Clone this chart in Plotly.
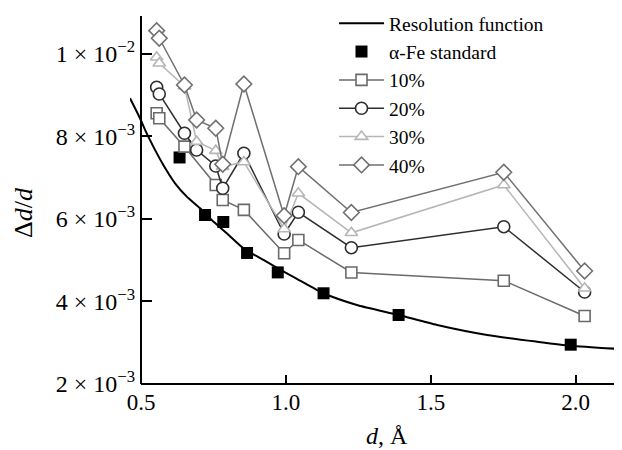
import plotly.graph_objects as go

# Resolution function curve
res_d = [0.462, 0.4965, 0.514, 0.5425, 0.577, 0.6175, 0.658, 0.704, 0.744, 0.796,
         0.8535, 0.9226, 1.0035, 1.038, 1.130, 1.245, 1.389, 1.522, 1.6945, 1.867,
         1.982, 2.155]
res_v = [0.008926, 0.008441, 0.008158, 0.007753, 0.007309, 0.006865, 0.006541,
         0.006259, 0.005976, 0.005653, 0.00529, 0.005006, 0.004684, 0.00455,
         0.004199, 0.003915, 0.003673, 0.00343, 0.003188, 0.003025, 0.002928,
         0.002848]

# alpha-Fe standard
fe_d = [0.633, 0.721, 0.784, 0.866, 0.972, 1.130, 1.389, 1.983]
fe_v = [0.007491, 0.006097, 0.005927, 0.005176, 0.004705, 0.004199, 0.003673, 0.002953]

# Sample series
d12 = [0.554, 0.563, 0.650, 0.692, 0.758, 0.782, 0.855, 0.994, 1.043, 1.226, 1.752, 2.031]
v10 = [0.008562, 0.008441, 0.007753, None, 0.006824, 0.006461, 0.006220, 0.005169,
       0.005491, 0.004703, 0.004504, 0.003648]
v20 = [0.009193, 0.009030, 0.008078, 0.007673, 0.007285, 0.006744, 0.007593, 0.005636,
       0.006162, 0.005304, 0.005813, 0.004230]
v30 = [0.009920, 0.009775, 0.009220, 0.007874, 0.007656, 0.007268, 0.007382, 0.005758,
       0.006623, 0.005665, 0.006824, 0.004320]
v40 = [0.010565, 0.010380, 0.009248, 0.008400, 0.008200, 0.007326, 0.009273, 0.006080,
       0.007268, 0.006158, 0.007132, 0.004739]

xtick_vals = [0.5, 1.0, 1.5, 2.0]
xtick_text = ["0.5", "1.0", "1.5", "2.0"]
ytick_vals = [0.002, 0.004, 0.006, 0.008, 0.010]
ytick_text = ["2 × 10<sup>−3</sup>", "4 × 10<sup>−3</sup>", "6 × 10<sup>−3</sup>",
              "8 × 10<sup>−3</sup>", "1 × 10<sup>−2</sup>"]

XMIN, XMAX = 0.462, 2.16
YMIN, YMAX = 0.002, 0.01092
FONT = "Liberation Serif"

fig = go.Figure()
fig.add_trace(go.Scatter(x=res_d, y=res_v, mode="lines", name="Resolution function",
                         line=dict(color="black", width=2, shape="spline", smoothing=0.6)))
fig.add_trace(go.Scatter(x=fe_d, y=fe_v, mode="markers", name="α-Fe standard",
                         marker=dict(symbol="square", size=12, color="black",
                                     line=dict(width=0))))

series = [
    ("10%", [d for d, v in zip(d12, v10) if v is not None], [v for v in v10 if v is not None],
     "square", "#6a6a6a", 11),
    ("20%", d12, v20, "circle", "#2e2e2e", 12),
    ("30%", d12, v30, "triangle-up", "#b6b6b6", 11),
    ("40%", d12, v40, "diamond", "#707070", 12),
]
for name, xs, ys, sym, col, sz in series:
    fig.add_trace(go.Scatter(x=xs, y=ys, mode="lines+markers", name=name,
                             line=dict(color=col, width=1.5),
                             marker=dict(symbol=sym, size=sz, color="white",
                                         line=dict(color=col, width=1.6))))

# x baseline from d=0.5 rightwards
fig.add_shape(type="line", xref="x", yref="paper", x0=0.5, x1=XMAX, y0=0, y1=0,
              line=dict(color="black", width=2))

# page body has an 8px margin: figure is 8px smaller and margins reduced
fig.update_layout(
    width=614, height=442,
    margin=dict(l=122, r=0, t=8, b=66, autoexpand=False),
    paper_bgcolor="white", plot_bgcolor="white",
    font=dict(family=FONT, size=23, color="black"),
    showlegend=True,
    legend=dict(x=(334 - 130) / 492, y=1 + 12 / 368, xanchor="left", yanchor="top",
                font=dict(family=FONT, size=19.5), bgcolor="rgba(0,0,0,0)",
                itemwidth=45, tracegroupgap=0),
    xaxis=dict(range=[XMIN, XMAX], showgrid=False, zeroline=False, showline=False,
               tickmode="array", tickvals=xtick_vals, ticktext=xtick_text,
               ticks="inside", ticklen=9, tickwidth=2, tickcolor="black",
               tickfont=dict(family=FONT, size=23), ticklabelstandoff=2),
    yaxis=dict(range=[YMIN, YMAX], showgrid=False, zeroline=False,
               showline=True, linecolor="black", linewidth=2,
               anchor="free", position=(0.5 - XMIN) / (XMAX - XMIN),
               tickmode="array", tickvals=ytick_vals, ticktext=ytick_text,
               ticks="inside", ticklen=10, tickwidth=2, tickcolor="black",
               tickfont=dict(family=FONT, size=24)),
    annotations=[
        dict(text="Δ<i>d</i>/<i>d</i>", xref="paper", yref="paper",
             x=-(130 - 23) / 492, y=(384 - 213) / 368, textangle=-90,
             showarrow=False, font=dict(family=FONT, size=26),
             xanchor="center", yanchor="middle"),
        dict(text="<i>d</i>, Å", xref="paper", yref="paper",
             x=(387 - 130) / 492, y=-(436 - 384) / 368, showarrow=False,
             font=dict(family=FONT, size=24), xanchor="center", yanchor="middle"),
    ],
)

fig.write_html("out.html")
